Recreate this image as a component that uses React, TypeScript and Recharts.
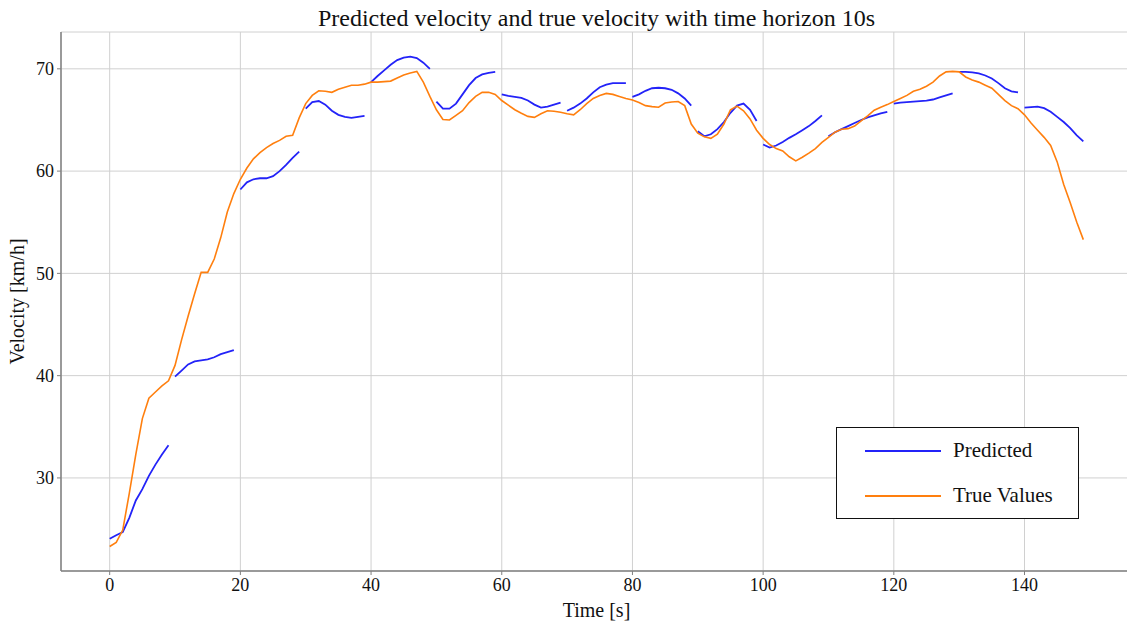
import { LineChart, Line, XAxis, YAxis, CartesianGrid } from 'recharts'

// forecast horizon: each block of 10 predictions starts from a new second
const HORIZON = 10

const timeTicks = [0, 20, 40, 60, 80, 100, 120, 140]
const velocityTicks = [30, 40, 50, 60, 70]

// measured speed, one value per second (t = 0..149)
const trueVelocity = [
  23.3, 23.7, 24.9, 28.5, 32.3, 35.8, 37.8, 38.4, 39.0, 39.5,
  41.0, 43.5, 45.8, 48.0, 50.1, 50.1, 51.4, 53.5, 56.0, 57.8,
  59.2, 60.3, 61.2, 61.8, 62.3, 62.7, 63.0, 63.4, 63.5, 65.2,
  66.6, 67.4, 67.85, 67.8, 67.7, 68.0, 68.2, 68.4, 68.4, 68.5,
  68.7, 68.7, 68.75, 68.8, 69.1, 69.4, 69.6, 69.75, 68.7, 67.3,
  66.0, 65.05, 65.0, 65.45, 65.9, 66.7, 67.3, 67.7, 67.7, 67.5,
  66.9, 66.45, 66.0, 65.65, 65.35, 65.25, 65.6, 65.9, 65.85, 65.75,
  65.6, 65.5, 66.0, 66.6, 67.1, 67.4, 67.6, 67.5, 67.3, 67.1,
  66.95, 66.7, 66.4, 66.3, 66.25, 66.65, 66.75, 66.8, 66.4, 64.6,
  63.7, 63.35, 63.2, 63.6, 64.6, 66.0, 66.35, 65.9, 65.1, 64.0,
  63.2, 62.6, 62.2, 61.97, 61.4, 61.0, 61.35, 61.75, 62.2, 62.8,
  63.3, 63.8, 64.1, 64.15, 64.4, 64.9, 65.4, 65.95, 66.25, 66.5,
  66.8, 67.1, 67.4, 67.8, 68.0, 68.3, 68.7, 69.3, 69.7, 69.75,
  69.7, 69.2, 68.9, 68.7, 68.4, 68.1, 67.5, 66.9, 66.4, 66.1,
  65.5, 64.7, 64.0, 63.3, 62.5, 60.9, 58.7, 56.9, 55.0, 53.3,
]

// model output, 10-second blocks
const predictedVelocity = [
  24.05, 24.4, 24.7, 26.1, 27.8, 28.9, 30.2, 31.3, 32.3, 33.2,
  39.9, 40.5, 41.1, 41.4, 41.5, 41.6, 41.8, 42.1, 42.3, 42.5,
  58.2, 58.9, 59.2, 59.3, 59.3, 59.5, 60.0, 60.6, 61.3, 61.9,
  66.1, 66.75, 66.85, 66.5, 65.9, 65.5, 65.3, 65.2, 65.3, 65.4,
  68.7, 69.3, 69.85, 70.4, 70.85, 71.1, 71.2, 71.05, 70.6, 70.0,
  66.8, 66.1, 66.1, 66.6, 67.5, 68.4, 69.1, 69.45, 69.6, 69.7,
  67.5, 67.35, 67.25, 67.15, 66.9, 66.5, 66.2, 66.3, 66.5, 66.7,
  65.9, 66.2, 66.6, 67.1, 67.7, 68.2, 68.45, 68.6, 68.6, 68.6,
  67.25, 67.5, 67.85, 68.1, 68.15, 68.1, 67.95, 67.6, 67.1, 66.4,
  63.9, 63.4, 63.6, 64.1, 64.8, 65.7, 66.4, 66.6, 66.0, 64.9,
  62.6, 62.3, 62.5, 62.85, 63.25, 63.6, 64.0, 64.4, 64.9, 65.45,
  63.4, 63.8, 64.1, 64.4, 64.7, 65.0, 65.25, 65.45, 65.65, 65.8,
  66.6, 66.7, 66.75, 66.8, 66.85, 66.9, 67.0, 67.2, 67.4, 67.6,
  69.7, 69.7, 69.65, 69.55, 69.35, 69.05, 68.6, 68.1, 67.8, 67.7,
  66.2, 66.25, 66.3, 66.15, 65.8, 65.3, 64.8, 64.2, 63.5, 62.9,
]

const BLUE = '#2323f8'
const ORANGE = '#ff7f0e'
const FONT = '"Liberation Serif", "Times New Roman", serif'

const trueData = trueVelocity.map((v, t) => ({ t, v }))
const blocks: { t: number; v: number }[][] = []
for (let s = 0; s < predictedVelocity.length; s += HORIZON) {
  blocks.push(predictedVelocity.slice(s, s + HORIZON).map((v, i) => ({ t: s + i, v })))
}

function LegendBox() {
  const row = (color: string, label: string) => (
    <div style={{ display: 'flex', alignItems: 'center', height: 45 }}>
      <span style={{ width: 76, height: 0, borderTop: `2px solid ${color}`, marginLeft: 28, marginRight: 12 }} />
      <span style={{ fontSize: 21, color: '#111' }}>{label}</span>
    </div>
  )
  return (
    <div style={{
      position: 'absolute', left: 836, top: 427,
      width: 241, height: 90, border: '1px solid #111', background: '#fff',
      fontFamily: FONT,
    }}>
      {row(BLUE, 'Predicted')}
      {row(ORANGE, 'True Values')}
    </div>
  )
}

export default function App() {
  return (
    <div style={{ position: 'absolute', left: 0, top: 0, width: 1127, height: 622, overflow: 'hidden', background: '#fff', fontFamily: FONT }}>
      <div style={{ position: 'absolute', top: 3, left: 0, width: 1193, textAlign: 'center', fontSize: 24, lineHeight: '30px', color: '#111' }}>
        Predicted velocity and true velocity with time horizon 10s
      </div>
      <LineChart width={1140} height={622} margin={{ top: 32, right: 8, bottom: 21, left: 1 }}>
        <CartesianGrid stroke="#d0d0d0" strokeWidth={1} />
        <XAxis
          dataKey="t"
          type="number"
          domain={[-7.45, 156.45]}
          ticks={timeTicks}
          allowDataOverflow
          height={30}
          tickSize={4}
          tickMargin={3}
          axisLine={{ stroke: '#808080', strokeWidth: 1.5 }}
          tickLine={{ stroke: '#808080' }}
          tick={{ fontSize: 18, fill: '#111', fontFamily: FONT }}
          label={{ value: 'Time [s]', position: 'insideBottom', offset: -16, fontSize: 20, fill: '#111', fontFamily: FONT }}
        />
        <XAxis xAxisId="top" orientation="top" type="number" domain={[-7.45, 156.45]} tick={false} tickLine={false} height={0} axisLine={{ stroke: '#808080', strokeWidth: 1.5 }} />
        <YAxis
          type="number"
          domain={[20.9, 73.6]}
          ticks={velocityTicks}
          allowDataOverflow
          width={60}
          tickSize={4}
          tickMargin={3}
          axisLine={{ stroke: '#808080', strokeWidth: 1.5 }}
          tickLine={{ stroke: '#808080' }}
          tick={{ fontSize: 18, fill: '#111', fontFamily: FONT }}
          label={{ value: 'Velocity [km/h]', angle: -90, position: 'insideLeft', offset: 16, fontSize: 20, fill: '#111', fontFamily: FONT, style: { textAnchor: 'middle' } }}
        />
        <YAxis yAxisId="right" orientation="right" domain={[20.9, 73.6]} tick={false} tickLine={false} width={0} axisLine={{ stroke: '#808080', strokeWidth: 1.5 }} />
        {blocks.map((b, i) => (
          <Line
            key={`p${i}`}
            data={b}
            dataKey="v"
            type="linear"
            stroke={BLUE}
            strokeWidth={1.8}
            dot={false}
            isAnimationActive={false}
          />
        ))}
        <Line
          data={trueData}
          dataKey="v"
          type="linear"
          stroke={ORANGE}
          strokeWidth={1.6}
          dot={false}
          isAnimationActive={false}
        />
      </LineChart>
      <LegendBox />
    </div>
  )
}
